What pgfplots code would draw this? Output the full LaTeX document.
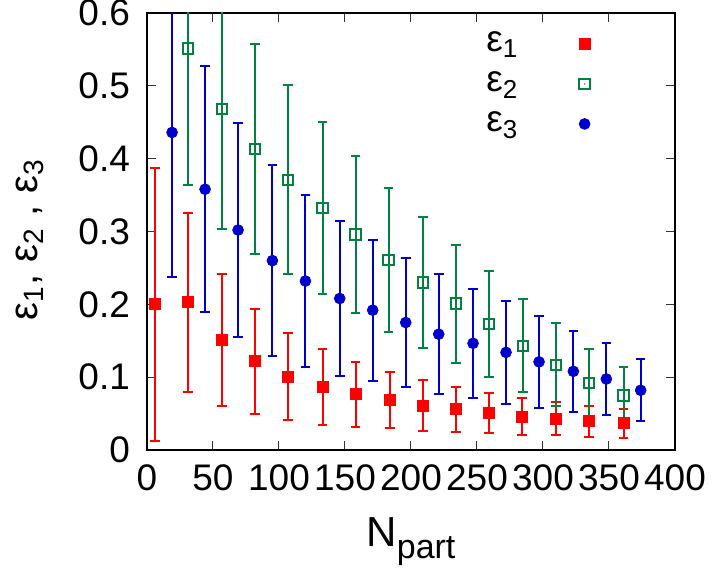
\documentclass[border=0pt]{standalone}
\usepackage{fontspec}
\setmainfont{Liberation Sans}
\usepackage{pgfplots}
\pgfplotsset{compat=1.18}

\definecolor{gpred}{RGB}{255,0,0}
\definecolor{gpgreen}{RGB}{0,130,64}
\definecolor{gpblue}{RGB}{0,0,204}

\pgfdeclareplotmark{dotsquare}{%
  \pgfpathrectangle{\pgfpoint{-\pgfplotmarksize}{-\pgfplotmarksize}}{\pgfpoint{2\pgfplotmarksize}{2\pgfplotmarksize}}%
  \pgfusepathqstroke
  \pgfpathcircle{\pgfpointorigin}{0.35pt}%
  \pgfusepathqfill}

\pgfplotstableread{
x y e
6 0.200 0.187
31 0.203 0.123
57 0.151 0.090
82 0.122 0.072
107 0.101 0.060
133 0.087 0.052
158 0.0765 0.0445
184 0.069 0.0385
209 0.061 0.0345
234 0.056 0.031
259 0.0505 0.0272
284 0.046 0.025
310 0.043 0.0225
335 0.0395 0.021
361 0.0366 0.0195
}\epsone

\pgfplotstableread{
x y e
31 0.551 0.187
57 0.468 0.165
82 0.413 0.144
107 0.371 0.130
133 0.332 0.118
158 0.296 0.108
183 0.261 0.099
209 0.230 0.090
234 0.201 0.081
259 0.173 0.073
285 0.143 0.064
310 0.117 0.057
335 0.092 0.047
361 0.075 0.039
}\epstwo

\pgfplotstableread{
x y e
19 0.436 0.198
44 0.358 0.169
69 0.302 0.147
95 0.260 0.131
120 0.232 0.118
146 0.208 0.106
171 0.192 0.097
196 0.175 0.089
221 0.159 0.082
247 0.1465 0.075
272 0.134 0.0705
297 0.121 0.063
323 0.108 0.056
348 0.0975 0.050
374 0.082 0.0425
}\epsthree

\newcommand{\tickfont}{\fontsize{18.5}{21}\selectfont}
\newcommand{\xlabfont}{\fontsize{21}{24}\selectfont}
\newcommand{\ylabfont}{\fontsize{20}{23}\selectfont}

\pgfplotsset{
    errbars/.style={
        error bars/.cd,
        y dir=both, y explicit,
        error bar style={line width=1pt},
        error mark options={rotate=90, line width=1pt, mark size=2.4pt},
    },
}

\begin{document}
\begin{tikzpicture}
\begin{axis}[
    name=ax,
    scale only axis,
    width=264pt, height=218.5pt,
    xmin=0, xmax=400, ymin=0, ymax=0.6,
    xtick={0,50,...,400},
    ytick={0,0.1,...,0.6},
    yticklabel style={/pgf/number format/fixed, /pgf/number format/precision=1, xshift=-5pt},
    xticklabel style={yshift=-4pt},
    /pgf/number format/assume math mode=true,
    tick label style={font=\tickfont},
    xtick pos=both, ytick pos=both,
    tick align=inside,
    major tick length=4.5pt,
    tick style={line width=0.5pt, color=black!80},
    axis line style={line width=0.9pt},
    xlabel={N\raisebox{-6pt}{\fontsize{17}{19}\selectfont part}},
    ylabel={ε\textsubscript{1},\hspace{0.3em}ε\textsubscript{2}\hspace{0.3em},\hspace{0.3em}ε\textsubscript{3}},
    x label style={font=\xlabfont, at={(axis description cs:0.5,-0.153)}, anchor=north, inner sep=0pt},
    y label style={font=\ylabfont, at={(axis description cs:-0.222,0.482)}, anchor=center, inner sep=0pt},
    legend plot pos=right,
    legend cell align=left,
    legend style={draw=none, fill=none, font=\tickfont,
        at={(rel axis cs:0.623,0.985)}, anchor=north west,
        nodes={text height=12pt, text depth=4pt, inner sep=2pt}},
    legend image code/.code={\path (0pt,0pt) (38pt,0pt); \draw[#1] plot coordinates {(31pt,0pt)};},
]
\addplot[only marks, color=gpred, mark=square*, mark size=2.75pt, errbars]
    table[x=x, y=y, y error=e] {\epsone};
\addlegendentry{ε\textsubscript{1}}
\addplot[only marks, color=gpgreen, mark=dotsquare, mark size=2.6pt, mark options={line width=1pt}, errbars]
    table[x=x, y=y, y error=e] {\epstwo};
\addlegendentry{ε\textsubscript{2}}
\addplot[only marks, color=gpblue, mark=*, mark size=2.7pt, errbars]
    table[x=x, y=y, y error=e] {\epsthree};
\addlegendentry{ε\textsubscript{3}}
\end{axis}
\pgfresetboundingbox
\path ([shift={(-73.5pt,-60.5pt)}]ax.south west) rectangle ([shift={(18.5pt,6.5pt)}]ax.north east);
\end{tikzpicture}
\end{document}
